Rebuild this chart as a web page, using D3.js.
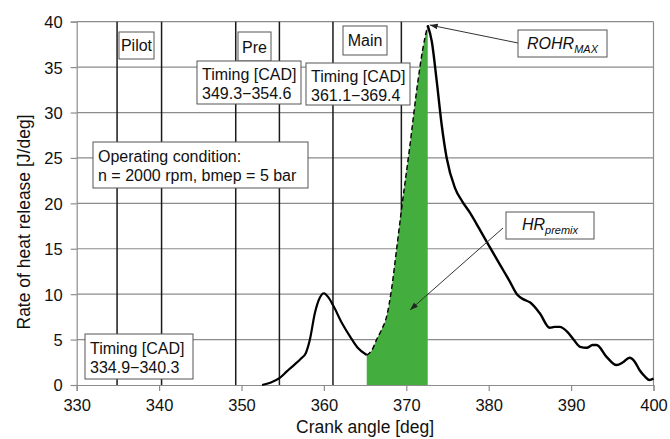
<!DOCTYPE html>
<html><head><meta charset="utf-8">
<script src="https://cdn.jsdelivr.net/npm/d3@7"></script>
<style>
html,body{margin:0;padding:0;background:#fff;}
svg text{font-family:"Liberation Sans",Arial,sans-serif;fill:#111;}
</style></head>
<body><svg id="c" width="670" height="439"></svg>
<script>
// ---- data ----
const crank = [352.5,353.5,354.6,355.5,356.5,357.2,357.8,358.3,358.9,359.5,360.0,360.5,361.1,362.2,363.2,364.1,365.2,
  365.8,366.4,367.0,367.6,368.2,368.8,369.4,370.4,371.4,372.0,372.6,
  373.1,373.7,374.3,374.9,375.9,376.8,377.7,378.8,379.8,381.4,382.5,383.5,384.3,385.0,386.2,387.4,388.0,388.6,389.6,390.3,391.1,391.9,392.6,393.1,394.3,395.5,396.3,397.1,397.7,398.3,399.0,399.5,400.0];
const rohr  = [0,0.25,0.75,1.5,2.3,2.9,3.5,5.0,7.9,9.6,10.1,9.7,8.8,6.8,5.3,4.1,3.3,
  3.8,5.0,6.1,7.5,10.5,14.8,19.2,26.1,33.4,37.0,39.6,
  37.8,33.4,28.6,25.0,21.7,20.2,19.0,17.3,15.7,13.2,11.5,9.9,9.4,9.1,7.9,6.3,6.4,6.4,5.8,5.0,4.2,4.1,4.4,4.4,3.1,2.2,2.5,3.0,2.6,1.65,0.9,0.55,0.7];
const xTicks = [330,340,350,360,370,380,390,400];
const yTicks = [0,5,10,15,20,25,30,35,40];
const timingLines = [334.9,340.3,349.3,354.6,361.1,369.4];
const premixRange = [365.2,372.6];

const svg = d3.select("#c");
const L=76.7,R=653.5,T=21.7,B=385;
const x = d3.scaleLinear().domain([330,400]).range([L,R]);
const y = d3.scaleLinear().domain([0,40]).range([B,T]);
const grid="#8c8c8c";

// horizontal grid
svg.append("g").selectAll("line").data(yTicks.filter(d=>d>0)).join("line")
  .attr("x1",L).attr("x2",R).attr("y1",d=>y(d)).attr("y2",d=>y(d))
  .attr("stroke",grid).attr("stroke-width",1.2);
// right border
svg.append("line").attr("x1",R).attr("x2",R).attr("y1",T).attr("y2",B).attr("stroke",grid).attr("stroke-width",1.2);

// axes
const xa = svg.append("g").attr("transform",`translate(0,${B})`)
  .call(d3.axisBottom(x).tickValues(xTicks).tickSize(6).tickPadding(8).tickFormat(d3.format("d")));
const ya = svg.append("g").attr("transform",`translate(${L},0)`)
  .call(d3.axisLeft(y).tickValues(yTicks).tickSize(6).tickPadding(8).tickFormat(d3.format("d")));
[xa,ya].forEach(a=>{
  a.select(".domain").attr("stroke",grid).attr("stroke-width",1.2);
  a.selectAll(".tick line").attr("stroke",grid).attr("stroke-width",1.2);
  a.selectAll(".tick text").attr("font-size",16.5).attr("fill","#111").style("font-family","Liberation Sans, Arial, sans-serif");
});
ya.selectAll(".tick text").attr("dy","0.36em");

// timing lines
svg.append("g").selectAll("line").data(timingLines).join("line")
  .attr("x1",d=>x(d)).attr("x2",d=>x(d)).attr("y1",y(0)).attr("y2",y(40))
  .attr("stroke","#1a1a1a").attr("stroke-width",1.5);

// data points
const pts = crank.map((c,i)=>({c,v:rohr[i]}));
const curve = d3.curveMonotoneX;
const inPre = pts.filter(p=>p.c>=premixRange[0]-1e-9 && p.c<=premixRange[1]+1e-9);

// green area
svg.append("path").datum(inPre)
  .attr("d",d3.area().x(p=>x(p.c)).y0(y(0)).y1(p=>y(p.v)).curve(curve))
  .attr("fill","#43ad3d");

const line = d3.line().x(p=>x(p.c)).y(p=>y(p.v)).curve(curve);
const before = pts.filter(p=>p.c<=premixRange[0]+1e-9);
const after = pts.filter(p=>p.c>=premixRange[1]-1e-9);
svg.append("path").datum(before).attr("d",line).attr("fill","none").attr("stroke","#000").attr("stroke-width",2.2);
svg.append("path").datum(after).attr("d",line).attr("fill","none").attr("stroke","#000").attr("stroke-width",2.4);
svg.append("path").datum(inPre).attr("d",line).attr("fill","none").attr("stroke","#000")
  .attr("stroke-width",1.4).attr("stroke-dasharray","5,3");

// arrow marker
const defs = svg.append("defs");
defs.append("marker").attr("id","ah").attr("viewBox","0 0 10 10").attr("refX",10).attr("refY",5)
  .attr("markerWidth",8).attr("markerHeight",8).attr("orient","auto-start-reverse")
  .append("path").attr("d","M0,1.5 L10,5 L0,8.5 z").attr("fill","#222");

// arrows (from box to target)
function arrow(x1,y1,x2,y2){
  svg.append("line").attr("x1",x1).attr("y1",y1).attr("x2",x2).attr("y2",y2)
    .attr("stroke","#333").attr("stroke-width",1).attr("marker-end","url(#ah)");
}
arrow(518,43,x(372.6)+2,25);
arrow(503,228,410,310);

// text boxes
function box(x0,y0,w,h,lines,opts={}){
  const g=svg.append("g");
  g.append("rect").attr("x",x0).attr("y",y0).attr("width",w).attr("height",h)
    .attr("fill","#fff").attr("stroke","#555").attr("stroke-width",1);
  lines.forEach((t,i)=>{
    g.append("text").attr("x",opts.center?x0+w/2:x0+5).attr("y",y0+(opts.first||19)+i*18.5)
      .attr("font-size",16).attr("text-anchor",opts.center?"middle":"start").text(t);
  });
  return g;
}
box(119,32,35,27,["Pilot"],{center:true,first:19});
box(238,32,33,29,["Pre"],{center:true,first:21});
box(343,26,44,29,["Main"],{center:true,first:20});
box(197,61,104,43,["Timing [CAD]","349.3\u2212354.6"]);
box(306,63,104,42,["Timing [CAD]","361.1\u2212369.4"]);
box(93,142,215,46,["Operating condition:","n = 2000 rpm, bmep = 5 bar"],{first:20});
box(85,334,108,45,["Timing [CAD]","334.9\u2212340.3"],{first:20});

// ROHR box
const rb = svg.append("g");
rb.append("rect").attr("x",518).attr("y",30).attr("width",89).attr("height",27).attr("fill","#fff").attr("stroke","#555");
const rt = rb.append("text").attr("x",562.5).attr("y",49).attr("text-anchor","middle").attr("font-size",16).attr("font-style","italic");
rt.append("tspan").text("ROHR");
rt.append("tspan").attr("font-size",11).attr("dy",4).text("MAX");
// HR box
const hb = svg.append("g");
hb.append("rect").attr("x",506).attr("y",212).attr("width",88).attr("height",27).attr("fill","#fff").attr("stroke","#555");
const ht = hb.append("text").attr("x",550).attr("y",230).attr("text-anchor","middle").attr("font-size",16).attr("font-style","italic");
ht.append("tspan").text("HR");
ht.append("tspan").attr("font-size",11).attr("dy",4).text("premix");

// axis titles
svg.append("text").attr("x",(L+R)/2).attr("y",433).attr("text-anchor","middle").attr("font-size",17.5).text("Crank angle [deg]");
svg.append("text").attr("transform",`translate(30,${222}) rotate(-90)`).attr("text-anchor","middle").attr("font-size",17.5).text("Rate of heat release [J/deg]");
</script></body></html>
